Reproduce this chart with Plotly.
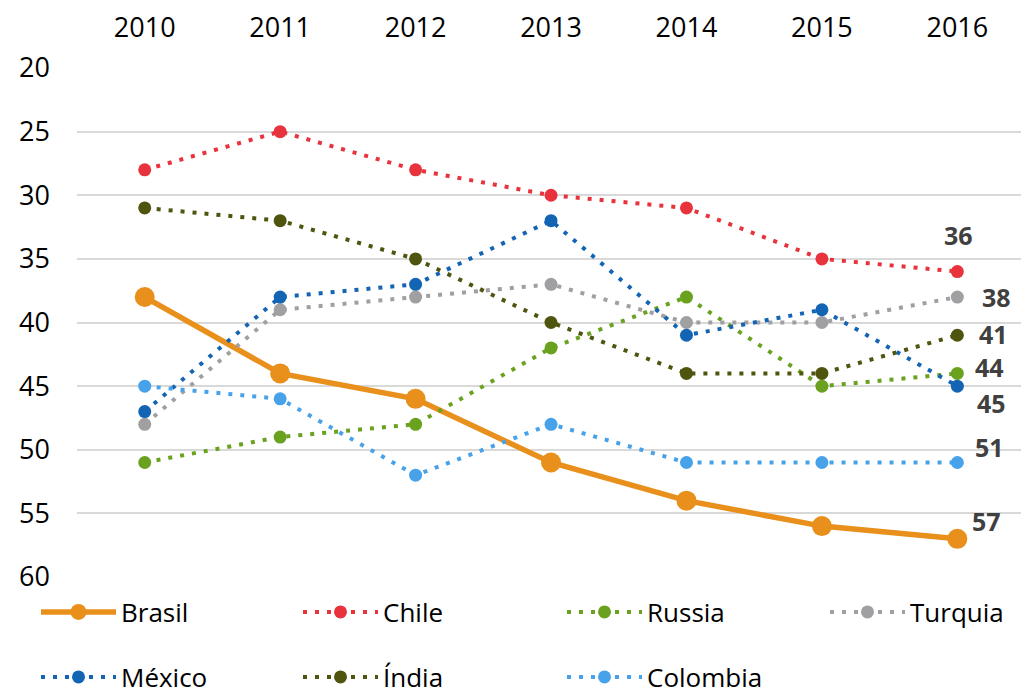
import plotly.graph_objects as go

years = ["2010", "2011", "2012", "2013", "2014", "2015", "2016"]

brasil = [38, 44, 46, 51, 54, 56, 57]
chile = [28, 25, 28, 30, 31, 35, 36]
russia = [51, 49, 48, 42, 38, 45, 44]
turquia = [48, 39, 38, 37, 40, 40, 38]
mexico = [47, 38, 37, 32, 41, 39, 45]
india = [31, 32, 35, 40, 44, 44, 41]
colombia = [45, 46, 52, 48, 51, 51, 51]

FONT = "Open Sans"
W, H = 1022, 695

# name, values, colour, legend slot (column, row)
series = [
    ("Brasil", brasil, "#E8901B", (0, 0)),
    ("Chile", chile, "#E8333D", (1, 0)),
    ("Russia", russia, "#6AA220", (2, 0)),
    ("Turquia", turquia, "#A0A0A2", (3, 0)),
    ("México", mexico, "#1464B4", (0, 1)),
    ("Índia", india, "#4F540F", (1, 1)),
    ("Colombia", colombia, "#48A2EA", (2, 1)),
]

col_left = [36, 298, 562, 825]   # px from left edge of the page
row_mid = [612, 677]             # px from top edge of the page

fig = go.Figure()
legends = {}
for i, (name, vals, color, (col, row)) in enumerate(series):
    leg_id = "legend" if i == 0 else f"legend{i + 1}"
    if name == "Brasil":
        line = dict(color=color, width=5.5)
        marker = dict(size=20, color=color)
    else:
        line = dict(color=color, width=4, dash="4px,8px")
        marker = dict(size=13, color=color)
    fig.add_trace(go.Scatter(
        x=years, y=vals, name=name, mode="lines+markers",
        line=line, marker=marker, legend=leg_id, cliponaxis=False,
        showlegend=True,
    ))
    legends[leg_id] = dict(
        orientation="h", xanchor="left", yanchor="middle",
        font=dict(family=FONT, size=26, color="#000000"),
        bgcolor="rgba(0,0,0,0)", itemwidth=75, visible=True,
        x=col_left[col] / W, y=1 - row_mid[row] / H,
        xref="container", yref="container",
    )

# end-of-line value labels (offsets in px from the last point)
label_offsets = {
    "Chile": (1, 37),
    "Turquia": (39, 0),
    "Índia": (36, 1),
    "Russia": (32, 6),
    "México": (34, -17),
    "Colombia": (32, 15),
    "Brasil": (29, 18),
}
last_idx = len(years) - 1
for name, vals, color, slot in series:
    dx, dy = label_offsets[name]
    fig.add_annotation(
        x=last_idx, y=vals[-1], xref="x", yref="y",
        text=f"<b>{vals[-1]}</b>", showarrow=False,
        xanchor="center", yanchor="middle", xshift=dx, yshift=dy,
        font=dict(family=FONT, size=25, color="#404040"),
    )

fig.update_layout(
    width=W, height=H, showlegend=True,
    margin=dict(l=77, r=1, t=68, b=118, autoexpand=False),
    paper_bgcolor="white", plot_bgcolor="white",
    font=dict(family=FONT, size=26, color="#000000"),
    xaxis=dict(
        type="category", side="top", range=[-0.5, 6.47],
        showgrid=False, showline=False, ticks="", zeroline=False,
        ticklabelstandoff=25, tickfont=dict(family=FONT, size=27),
    ),
    yaxis=dict(
        range=[60, 20], dtick=5, tick0=20, showgrid=True,
        gridcolor="#D9D9D9", gridwidth=1.5, zeroline=False,
        showline=False, ticks="", ticklabelstandoff=26,
        tickfont=dict(family=FONT, size=27),
    ),
    **legends,
)

fig.write_html("out.html")
